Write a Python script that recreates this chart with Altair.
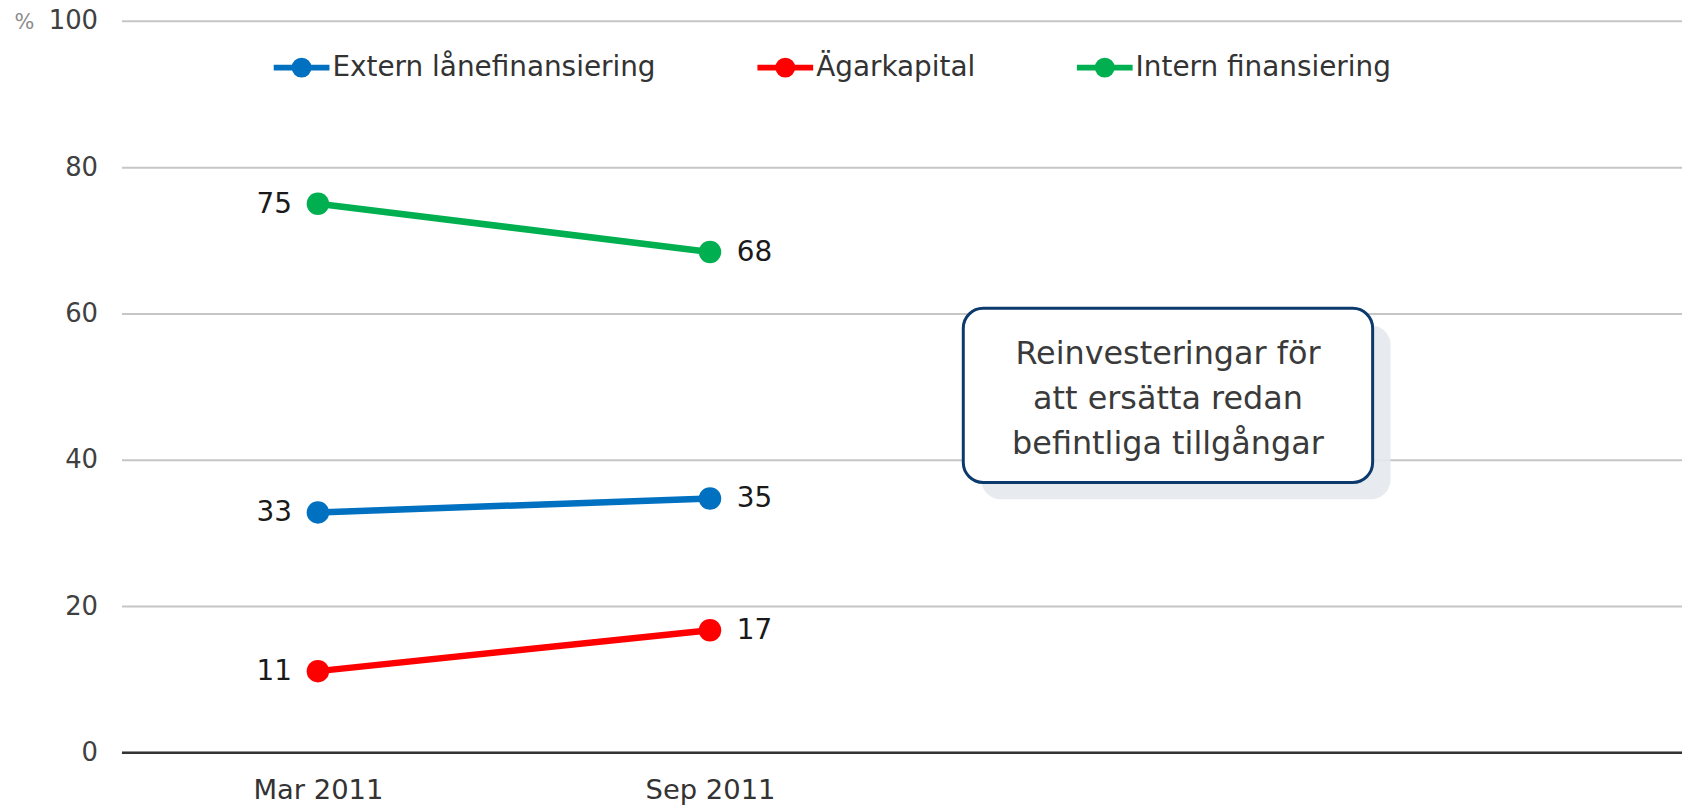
import json
import altair as alt
import pandas as pd

# ---------------- data ----------------
periods = ["Mar 2011", "Sep 2011"]
period_index = [0, 1]
series_names = ["Extern lånefinansiering", "Ägarkapital", "Intern finansiering"]
series_colors = ["#0070C0", "#FF0000", "#00B050"]
extern = [32.8, 34.7]
agar = [11.1, 16.7]
intern = [75.0, 68.4]
y_ticks = [0, 20, 40, 60, 80, 100]
annotation_lines = ["Reinvesteringar för", "att ersätta redan", "befintliga tillgångar"]

rows = []
for name, vals in zip(series_names, [extern, agar, intern]):
    for p, i, v in zip(periods, period_index, vals):
        rows.append({"series": name, "period": p, "idx": i, "value": v})
df = pd.DataFrame(rows)

# annotation box placed in data units (x index, y percent)
box = pd.DataFrame({
    "x1": [1.646], "x2": [2.690],
    "y1": [36.9], "y2": [60.7],
    "xc": [2.168], "yc": [54.5],
    "text": [annotation_lines],
})

# ---------------- scales / axes ----------------
xs = alt.Scale(domain=[-0.501, 3.479], nice=False, zero=False)
ys = alt.Scale(domain=[0, 100], nice=False)
cs = alt.Scale(domain=series_names, range=series_colors)

label_expr = json.dumps(periods) + "[datum.value]"

x_axis = alt.Axis(
    values=period_index, labelExpr=label_expr, grid=False, ticks=False, tickSize=0,
    domainColor="#333333", domainWidth=2.5,
    labelFont="DejaVu Sans", labelFontSize=27.5, labelColor="#333333",
    labelPadding=24, title="",
)
y_axis = alt.Axis(
    values=y_ticks, grid=True, gridColor="#C6C6C6", gridWidth=2,
    domain=False, ticks=False, tickSize=0,
    labelFont="DejaVu Sans", labelFontSize=26, labelColor="#404040", labelPadding=24,
    title="%", titleAngle=0, titleX=-108, titleY=2, titleAlign="left",
    titleBaseline="middle", titleFont="DejaVu Sans", titleFontSize=21,
    titleColor="#8C8C8C", titleFontWeight="normal",
)

sym_path = ("M-1,0L1,0M0.25,0A0.25,0.25,0,1,1,-0.25,0"
            "A0.25,0.25,0,1,1,0.25,0Z")

legend = alt.Legend(
    title=None, orient="none", legendX=150, legendY=16, direction="horizontal",
    symbolType=sym_path, symbolSize=3136, symbolStrokeWidth=6,
    labelFont="DejaVu Sans", labelFontSize=28, labelColor="#333333",
    labelOffset=0, columnPadding=90, padding=0, labelLimit=800,
)


def X(field):
    return alt.X(field, scale=xs, axis=x_axis)


def Y(field):
    return alt.Y(field, scale=ys, axis=y_axis)


base = alt.Chart(df)

lines = base.mark_line(strokeWidth=6.5).encode(
    x=X("idx:Q"), y=Y("value:Q"),
    stroke=alt.Stroke("series:N", scale=cs, legend=legend),
    detail="series:N",
)

points = base.mark_point(filled=True, size=510, opacity=1).encode(
    x=X("idx:Q"), y=Y("value:Q"),
    fill=alt.Fill("series:N", scale=cs, legend=legend),
)

lab_font = dict(font="DejaVu Sans", fontSize=28, color="#1A1A1A", baseline="middle")

left_labels = base.transform_filter(alt.datum.idx == 0).mark_text(
    align="right", dx=-26, dy=1, **lab_font
).encode(x=X("idx:Q"), y=Y("value:Q"), text=alt.Text("value:Q", format=".0f"))

right_labels = base.transform_filter(alt.datum.idx == 1).mark_text(
    align="left", dx=27, dy=1, **lab_font
).encode(x=X("idx:Q"), y=Y("value:Q"), text=alt.Text("value:Q", format=".0f"))

bchart = alt.Chart(box)

shadow = bchart.mark_rect(
    cornerRadius=20, fill="#E4E8EC", opacity=0.9,
    xOffset=18, x2Offset=18, yOffset=17, y2Offset=17,
).encode(x=X("x1:Q"), x2="x2:Q", y=Y("y1:Q"), y2="y2:Q")

frame = bchart.mark_rect(
    cornerRadius=20, fill="#FFFFFF", stroke="#0C3A6C", strokeWidth=3,
).encode(x=X("x1:Q"), x2="x2:Q", y=Y("y1:Q"), y2="y2:Q")

note = bchart.mark_text(
    font="DejaVu Sans", fontSize=32, lineHeight=45.5, align="center",
    baseline="middle", color="#3A3A3A",
).encode(x=X("xc:Q"), y=Y("yc:Q"), text="text")

chart = alt.layer(
    lines, points, left_labels, right_labels, shadow, frame, note
).properties(
    width=1568, height=735,
    background="#FFFFFF",
    autosize=alt.AutoSizeParams(type="none"),
    padding={"left": 114, "top": 11, "right": 0, "bottom": 53},
).configure_view(strokeWidth=0, stroke="transparent")

chart.save("out.html", embed_options={"renderer": "svg", "actions": False})
